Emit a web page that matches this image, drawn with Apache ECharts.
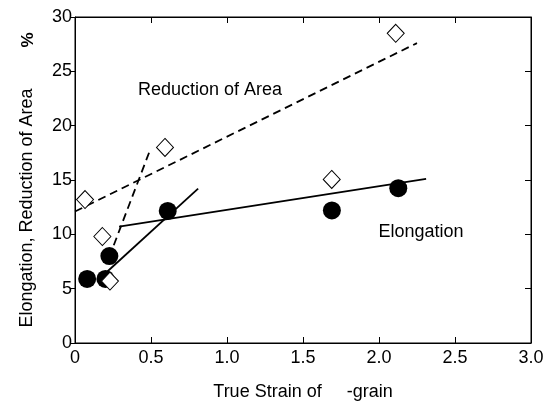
<!DOCTYPE html>
<html>
<head>
<meta charset="utf-8">
<script src="https://cdn.jsdelivr.net/npm/echarts@6/dist/echarts.min.js"></script>
<style>
  html, body { margin: 0; padding: 0; background: #fff; }
  #chart { width: 554px; height: 401px; }
</style>
</head>
<body>
<div id="chart"></div>
<script>
// 数据：伸长率 / 断面收缩率 vs 真应变
const elongationPts = [[0.08, 5.9], [0.2, 5.9], [0.226, 8.0], [0.61, 12.15], [1.69, 12.2], [2.127, 14.25]]
const reductionPts = [[0.066, 13.2], [0.18, 9.8], [0.23, 5.7], [0.592, 18.0], [1.689, 15.05], [2.11, 28.5]]
const elongFit1 = [[0.175, 6.1], [0.81, 14.2]]
const elongFit2 = [[0.29, 10.7], [2.31, 15.1]]
const reductionFit1 = [[0, 12.1], [2.25, 27.6]]
const reductionFit2 = [[0.255, 9.0], [0.495, 17.8]]
const xTicks = { min: 0, max: 3, interval: 0.5 }
const yTicks = { min: 0, max: 30, interval: 5 }

const FONT = 'Liberation Sans, Arial, sans-serif'
const chart = echarts.init(document.getElementById('chart'), null, { renderer: 'canvas' })

const lineSeries = (data, type) => ({
  type: 'line',
  data,
  symbol: 'none',
  silent: true,
  z: 2,
  lineStyle: { color: '#000', width: 1.8, type: type === 'dashed' ? [8, 5] : 'solid' }
})

// 上/右边框轴：只要刻度不要标签
const frameAxis = (base, position) => ({
  type: 'value', position, ...base,
  axisLine: { show: true, onZero: false, lineStyle: { color: '#000', width: 1 } },
  axisTick: { show: true, inside: true, length: 6, lineStyle: { color: '#000' } },
  axisLabel: { show: false },
  splitLine: { show: false }
})

chart.setOption({
  animation: false,
  grid: {
    left: 75, right: 23, top: 17, bottom: 58, containLabel: false, outerBoundsMode: 'none',
    show: true, borderColor: '#000', borderWidth: 1, backgroundColor: 'transparent'
  },
  xAxis: [
    {
      type: 'value', ...xTicks,
      axisLine: { onZero: false, lineStyle: { color: '#000', width: 1 } },
      axisTick: { inside: true, length: 6, lineStyle: { color: '#000' } },
      axisLabel: { color: '#000', fontSize: 18, fontFamily: FONT, margin: 6,
        formatter: v => v === 0 ? '0' : v.toFixed(1) },
      splitLine: { show: false },
      name: 'True Strain of     -grain',
      nameLocation: 'middle', nameGap: 40,
      nameTextStyle: { color: '#000', fontSize: 18, fontFamily: FONT }
    },
    frameAxis(xTicks, 'top')
  ],
  yAxis: [
    {
      type: 'value', ...yTicks,
      axisLine: { show: true, onZero: false, lineStyle: { color: '#000', width: 1 } },
      axisTick: { show: true, inside: false, length: 5, lineStyle: { color: '#000' } },
      axisLabel: { color: '#000', fontSize: 18, fontFamily: FONT, margin: 3 },
      splitLine: { show: false }
    },
    frameAxis(yTicks, 'right')
  ],
  series: [
    lineSeries(elongFit1, 'solid'),
    lineSeries(elongFit2, 'solid'),
    lineSeries(reductionFit1, 'dashed'),
    lineSeries(reductionFit2, 'dashed'),
    {
      type: 'scatter',
      data: elongationPts,
      symbol: 'circle',
      symbolSize: 18,
      z: 3,
      itemStyle: { color: '#000', opacity: 1 }
    },
    {
      // 绑定到上/右轴（同范围），让边框刻度显示
      type: 'scatter',
      xAxisIndex: 1,
      yAxisIndex: 1,
      data: reductionPts,
      symbol: 'diamond',
      symbolSize: [17, 18],
      z: 4,
      itemStyle: { color: '#fff', borderColor: '#000', borderWidth: 1, opacity: 1 }
    }
  ],
  graphic: [
    {
      type: 'text', x: 27, y: 208, rotation: Math.PI / 2,
      style: { text: 'Elongation, Reduction of Area', fill: '#000', font: '18px ' + FONT,
        textAlign: 'center', textVerticalAlign: 'middle' }
    },
    {
      type: 'text', x: 28, y: 40, rotation: Math.PI / 2,
      style: { text: '%', fill: '#000', font: 'bold 17px ' + FONT,
        textAlign: 'center', textVerticalAlign: 'middle' }
    },
    {
      type: 'text', x: 210, y: 90,
      style: { text: 'Reduction of Area', fill: '#000', font: '18px ' + FONT,
        textAlign: 'center', textVerticalAlign: 'middle' }
    },
    {
      type: 'text', x: 421, y: 232,
      style: { text: 'Elongation', fill: '#000', font: '18px ' + FONT,
        textAlign: 'center', textVerticalAlign: 'middle' }
    }
  ]
})
</script>
</body>
</html>
